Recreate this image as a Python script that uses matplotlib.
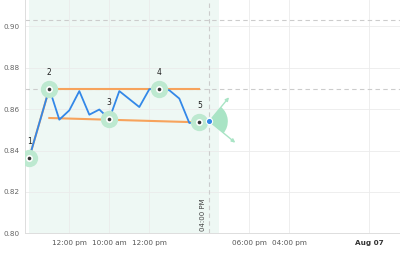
import matplotlib
matplotlib.use("Agg")
import matplotlib.pyplot as plt
import matplotlib.transforms as mtransforms
from matplotlib.patches import Wedge

# price series (x = bar index on the time axis)
xs = [0, 2, 3, 4, 5, 6, 7, 8, 9, 11, 12, 13, 14, 15, 16, 17, 18]
price = [0.8366, 0.8699, 0.8549, 0.8594, 0.8687, 0.8573, 0.8598, 0.8552,
         0.8687, 0.8610, 0.8696, 0.8699, 0.8691, 0.8651, 0.8533, 0.8538, 0.8541]

# pattern pivot points 1..5
pivot_x = [0, 2, 8, 13, 17]
pivot_y = [0.8366, 0.8699, 0.8552, 0.8699, 0.8538]
pivot_lbl = ["1", "2", "3", "4", "5"]

# trend lines of the pattern
upper_x = [2, 17]
upper_y = [0.8699, 0.8699]
lower_x = [2, 17]
lower_y = [0.8557, 0.8536]

hlines = [0.9029, 0.8699]
shade_from, shade_to = 0, 19
now_x = 18

tick_pos = [4, 8, 12, 22, 26, 34]
tick_lbl = ["12:00 pm", "10:00 am", "12:00 pm", "06:00 pm", "04:00 pm", "Aug 07"]
yticks = [0.80, 0.82, 0.84, 0.86, 0.88, 0.90]

BLUE = "#3388e8"
ORANGE = "#f7a35c"
GREEN = "#bde9d0"

fig = plt.figure(figsize=(4, 2.62), dpi=100)
ax = fig.add_axes([0.0618, 0.1095, 0.9382, 0.8905])
ax.set_xlim(-0.46, 37.07)
ax.set_ylim(0.80, 0.9127)

ax.axvspan(shade_from, shade_to, color="#eef8f4", zorder=0, lw=0)
ax.set_yticks(yticks)
ax.set_yticklabels(["%.2f" % v for v in yticks])
ax.set_xticks(tick_pos)
ax.set_xticklabels(tick_lbl)
ax.grid(True, color="#ebebeb", lw=0.6)
ax.set_axisbelow(True)
ax.tick_params(axis="both", length=0, labelsize=5.2)
ax.tick_params(axis="x", colors="#555555", pad=5)
ax.tick_params(axis="y", colors="#666666", pad=3.5)
ax.get_xticklabels()[-1].set_fontweight("bold")
ax.get_xticklabels()[-1].set_color("#333333")
for s in ["top", "right"]:
    ax.spines[s].set_visible(False)
for s in ["left", "bottom"]:
    ax.spines[s].set_color("#dddddd")
    ax.spines[s].set_linewidth(0.7)

for h in hlines:
    ax.axhline(h, color="#cccccc", lw=0.8, ls=(0, (4, 3)), zorder=1)
ax.axvline(now_x, color="#cccccc", lw=0.8, ls=(0, (4, 3)), zorder=1)
ax.text(now_x - 0.66, 0.8013, "04:00 PM", rotation=90, ha="center", va="bottom",
        fontsize=5, color="#444444")

# orange pattern lines
ax.plot(pivot_x[:2], pivot_y[:2], color=ORANGE, lw=1.5, zorder=2)
ax.plot(upper_x, upper_y, color=ORANGE, lw=1.5, zorder=2)
ax.plot(lower_x, lower_y, color=ORANGE, lw=1.5, zorder=2)

ax.plot(xs, price, color=BLUE, lw=1.3, zorder=3)

ax.plot(pivot_x, pivot_y, "o", ms=12.5, color=GREEN, mec="none", zorder=4)
ax.plot(pivot_x, pivot_y, "o", ms=5, color="white", mec="none", zorder=5)
ax.plot(pivot_x, pivot_y, "o", ms=2.6, color="#333333", mec="none", zorder=6)
for px, py, t in zip(pivot_x, pivot_y, pivot_lbl):
    ax.annotate(t, (px, py), xytext=(0, 8.5), textcoords="offset points",
                ha="center", va="bottom", fontsize=5.5, color="#222222")

# projection fan at the last price
ex, ey = xs[-1], price[-1]
tr = fig.dpi_scale_trans + mtransforms.ScaledTranslation(ex, ey, ax.transData)
ax.add_patch(Wedge((0, 0), 0.185, -40, 51, width=0.15, transform=tr,
                   color="#a9e4c5", lw=0, zorder=4))
for dx, dy in [(14.2, 17.3), (18.7, -15.4)]:
    ax.annotate("", xy=(ex, ey), xytext=(dx, dy), textcoords="offset points",
                arrowprops=dict(arrowstyle="<|-", color="#a9e4c5", lw=1.0,
                                shrinkA=0, shrinkB=3, mutation_scale=5),
                zorder=4)
ax.plot([ex], [ey], "o", ms=4.5, color=BLUE, mec="white", mew=0.8, zorder=7)

fig.savefig("out.png", dpi=100)
